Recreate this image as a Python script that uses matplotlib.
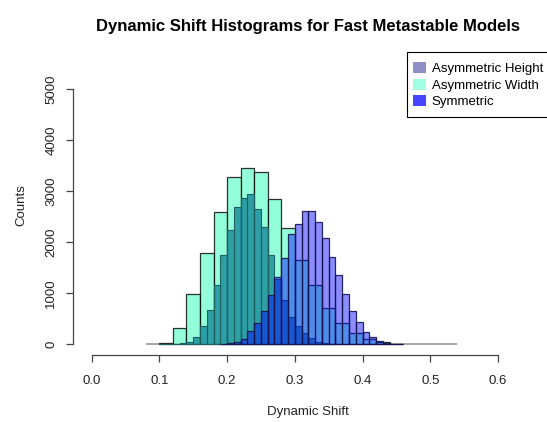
import numpy as np
import matplotlib
matplotlib.use("Agg")
import matplotlib.pyplot as plt
from matplotlib.patches import Patch, Rectangle

plt.rcParams['font.family'] = ['Liberation Sans', 'DejaVu Sans']

# histogram data (counts per bin)
width_start, width_step = 0.10, 0.02
width_counts = [25, 320, 975, 1790, 2590, 3275, 3460, 3370, 2850, 2270,
                1655, 1150, 700, 405, 208, 105, 45, 5]

height_start, height_step = 0.10, 0.01
height_counts = [5, 5, 5, 15, 30, 145, 345, 665, 1150, 1740, 2240, 2685,
                 2870, 2945, 2655, 2300, 1745, 1275, 860, 535, 355, 210,
                 110, 45, 15, 5]

sym_start, sym_step = 0.19, 0.01
sym_counts = [5, 20, 45, 105, 250, 405, 640, 970, 1320, 1680, 2150, 2355,
              2615, 2600, 2385, 2080, 1705, 1345, 990, 655, 430, 228, 138,
              62, 20, 6, 3]

# zero bins of one histogram run out to here
base_range = (0.08, 0.54)

legend_labels = ["Asymmetric Height", "Asymmetric Width", "Symmetric"]
legend_colors = ["#8f8fc4", "#a0ffe2", "#4646ff"]

W, H = 547, 422
fig = plt.figure(figsize=(W / 100, H / 100), dpi=100)
ax = fig.add_axes([72.7 / W, 1 - 355.1 / H, (544 - 72.7) / W, (355.1 - 55) / H])


def draw_hist(start, step, counts, face, edge, lw):
    left = start + step * np.arange(len(counts))
    ax.bar(left, counts, width=step, align='edge', color=face,
           edgecolor=edge, linewidth=lw)


ax.hlines(0, base_range[0], base_range[1], color='#999999', lw=1.2, zorder=0)
draw_hist(width_start, width_step, width_counts, (0.498, 1.0, 0.831, 0.85), (0, 0, 0, 0.8), 0.9)
draw_hist(height_start, height_step, height_counts, (0.024, 0.467, 0.569, 0.7), '#1d6060', 0.8)
draw_hist(sym_start, sym_step, sym_counts, (0, 0, 1, 0.45), (0.08, 0.08, 0.3, 0.9), 0.9)

ax.set_xlim(-0.028, 0.668)
ax.set_ylim(-218, 5668)

for s in ['top', 'right']:
    ax.spines[s].set_visible(False)
ax.spines['left'].set_bounds(0, 5000)
ax.spines['bottom'].set_bounds(0, 0.6)
for s in ['left', 'bottom']:
    ax.spines[s].set_color('#444444')
    ax.spines[s].set_linewidth(0.9)

ax.set_xticks(np.arange(0, 0.61, 0.1))
ax.set_xticklabels(["%.1f" % v for v in np.arange(0, 0.61, 0.1)])
ax.set_yticks(np.arange(0, 5001, 1000))
ax.set_yticklabels([str(v) for v in range(0, 5001, 1000)], rotation=90, va='center')
ax.tick_params(axis='both', length=5, width=0.9, color='#444444',
               labelsize=9.5, labelcolor='#222222')
ax.tick_params(axis='x', pad=9)
ax.tick_params(axis='y', pad=6)

ax.set_xlabel("Dynamic Shift", fontsize=9.5, color='#222222', labelpad=14)
ax.set_ylabel("Counts", fontsize=9.5, color='#222222', labelpad=13)
ax.set_title("Dynamic Shift Histograms for Fast Metastable Models",
             fontsize=12, fontweight='bold', pad=17.5)

# legend box (R style, runs off the right edge)
fig.patches.append(Rectangle((407.3 / W, 1 - 117.3 / H), 150 / W, (117.3 - 51.7) / H,
                             transform=fig.transFigure, fill=False,
                             edgecolor='black', linewidth=0.8))
handles = [Patch(facecolor=c, edgecolor='none') for c in legend_colors]
leg = ax.legend(handles, legend_labels, loc='upper left',
                bbox_to_anchor=(413.3 / W, 1 - 62.3 / H),
                bbox_transform=fig.transFigure, fontsize=9.5,
                frameon=False, borderaxespad=0, borderpad=0,
                handlelength=0.94, handleheight=0.9, handletextpad=0.45,
                labelspacing=0.25)

fig.savefig("out.png", dpi=100)
